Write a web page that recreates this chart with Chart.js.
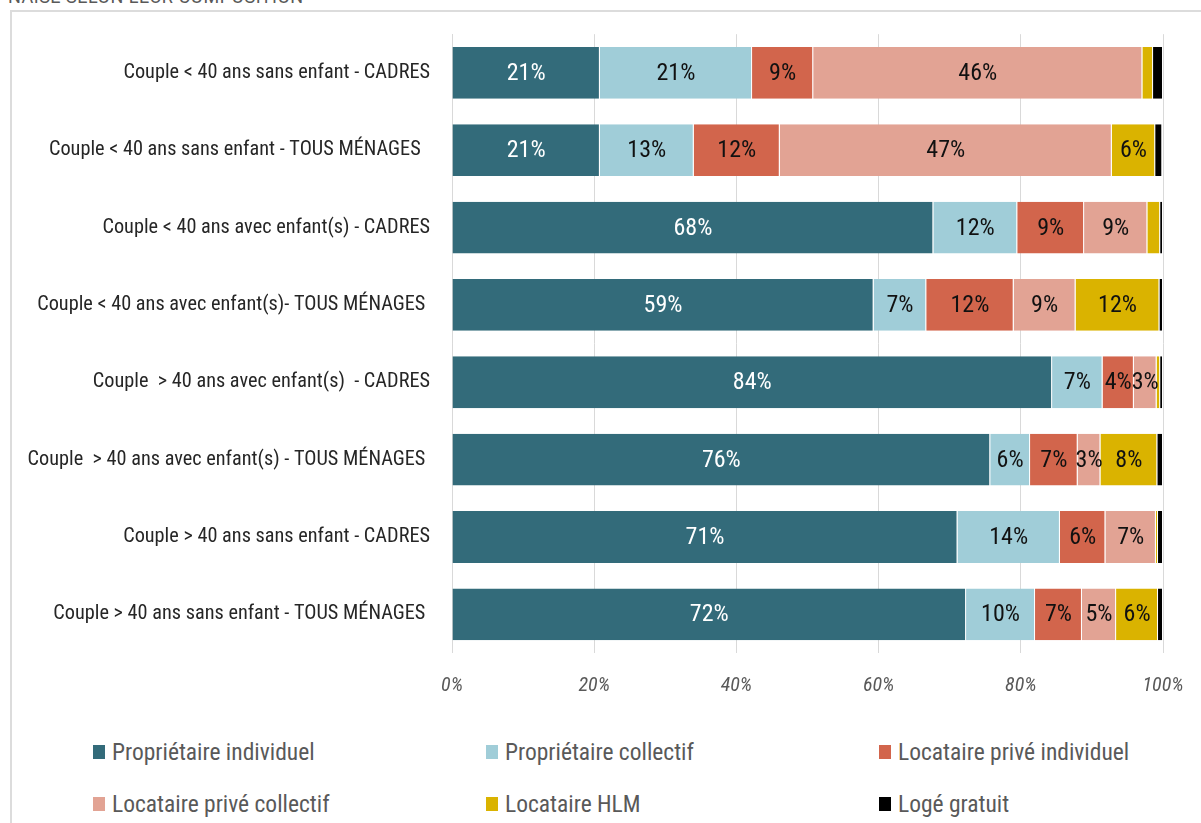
<!DOCTYPE html>
<html lang="fr">
<head>
<meta charset="utf-8">
<title>Statut d'occupation selon la composition du ménage</title>
<script src="https://cdn.jsdelivr.net/npm/chart.js@4.4.1/dist/chart.umd.min.js"></script>
<style>
	body { margin: 0; width: 1201px; height: 823px; overflow: hidden; background: #fff; font-family: "Liberation Sans Narrow", "Roboto Condensed", Roboto, sans-serif; }
	#title { position: absolute; left: 8px; top: -14px; font-family: Roboto, sans-serif; font-size: 18px; color: #595959; letter-spacing: 0.5px; white-space: nowrap; }
	#frame { position: absolute; left: 10px; top: 10px; width: 1300px; height: 900px; border: 2px solid #dcdcdc; }
	#chartBox { position: absolute; left: 0; top: 0; width: 1201px; height: 720px; }
	#legend { position: absolute; left: 93px; top: 734px; display: grid; grid-template-columns: 393px 393px 300px; row-gap: 16px; }
	.item { display: flex; align-items: center; height: 36px; font-size: 23.5px; color: #595959; white-space: nowrap; }
	.item span.box { width: 12px; height: 14px; margin-right: 7px; display: inline-block; }
</style>
</head>
<body>
<div id="title">NAISE SELON LEUR COMPOSITION</div>
<div id="frame"></div>
<div id="chartBox"><canvas id="housingChart"></canvas></div>
<div id="legend"></div>
<script>
const categories = [
	"Couple < 40 ans sans enfant - CADRES",
	"Couple < 40 ans sans enfant - TOUS MÉNAGES  ",
	"Couple < 40 ans avec enfant(s) - CADRES",
	"Couple < 40 ans avec enfant(s)- TOUS MÉNAGES ",
	"Couple  > 40 ans avec enfant(s)  - CADRES",
	"Couple  > 40 ans avec enfant(s) - TOUS MÉNAGES ",
	"Couple > 40 ans sans enfant - CADRES",
	"Couple > 40 ans sans enfant - TOUS MÉNAGES "
];

// shares in %
const proprietaireIndividuel = [20.8, 20.8, 67.7, 59.3, 84.4, 75.7, 71.1, 72.3];
const proprietaireCollectif = [21.4, 13.2, 11.8, 7.4, 7.1, 5.6, 14.4, 9.7];
const locatairePriveIndividuel = [8.6, 12.1, 9.4, 12.3, 4.4, 6.7, 6.4, 6.6];
const locatairePriveCollectif = [46.3, 46.7, 8.9, 8.7, 3.2, 3.2, 7.1, 4.8];
const locataireHLM = [1.5, 6.1, 1.8, 11.8, 0.5, 8.0, 0.3, 5.9];
const logeGratuit = [1.4, 1.0, 0.4, 0.5, 0.4, 0.8, 0.7, 0.7];

const tickValues = [0, 20, 40, 60, 80, 100];

const seriesNames = ["Propriétaire individuel", "Propriétaire collectif", "Locataire privé individuel", "Locataire privé collectif", "Locataire HLM", "Logé gratuit"];
const seriesData = [proprietaireIndividuel, proprietaireCollectif, locatairePriveIndividuel, locatairePriveCollectif, locataireHLM, logeGratuit];
const seriesColors = ["#336b7a", "#a0cdd8", "#d2654c", "#e2a394", "#dab300", "#000000"];
const labelColors = ["#ffffff", "#111111", "#111111", "#111111", "#111111", "#111111"];

const fontFamily = '"Liberation Sans Narrow", "Roboto Condensed", Roboto, sans-serif';

// writes the rounded value in the middle of each segment
const segmentLabels = {
	id: "segmentLabels",
	afterDatasetsDraw(chart) {
		const ctx = chart.ctx;
		ctx.save();
		ctx.font = `24px ${fontFamily}`;
		ctx.textAlign = "center";
		ctx.textBaseline = "middle";
		chart.data.datasets.forEach((dataset, i) => {
			const meta = chart.getDatasetMeta(i);
			meta.data.forEach((bar, j) => {
				const value = dataset.data[j];
				if (value < 2.5) return;
				ctx.fillStyle = labelColors[i];
				ctx.fillText(Math.round(value) + "%", (bar.x + bar.base) / 2, bar.y + 1);
			});
		});
		ctx.restore();
	}
};

const housingChart = document.getElementById("housingChart");

const housingChartDash = new Chart(housingChart, {
	type: "bar",
	data: {
		labels: categories,
		datasets: seriesNames.map((name, i) => ({
			label: name,
			data: seriesData[i],
			backgroundColor: seriesColors[i],
			borderColor: "rgba(255,255,255,0.5)",
			borderWidth: { left: 0, right: 1, top: 0, bottom: 0 },
			barPercentage: 0.67,
			categoryPercentage: 1
		}))
	},
	options: {
		indexAxis: "y",
		responsive: true,
		maintainAspectRatio: false,
		animation: false,
		layout: { padding: { left: 0, top: 32, right: 38, bottom: 0 } },
		plugins: {
			legend: { display: false },
			tooltip: { enabled: false }
		},
		scales: {
			x: {
				stacked: true,
				min: 0,
				max: 100,
				afterBuildTicks: scale => {
					scale.ticks = tickValues.map(v => ({ value: v }));
				},
				afterFit: scale => {
					scale.height = 67;
					// the "100%" label may overhang, it should not push the plot
					scale.paddingLeft = 0;
					scale.paddingRight = 0;
				},
				grid: { color: "#d9d9d9", drawTicks: false },
				border: { display: false },
				ticks: {
					padding: 21,
					color: "#595959",
					font: { family: fontFamily, size: 20, style: "italic" },
					callback: v => v + "%"
				}
			},
			y: {
				stacked: true,
				afterFit: scale => { scale.width = 452; },
				grid: { display: false, drawTicks: false },
				border: { display: true, color: "#d9d9d9" },
				ticks: {
					padding: 22,
					color: "#262626",
					font: { family: fontFamily, size: 20.3 }
				}
			}
		}
	},
	plugins: [segmentLabels]
});

// legend in three columns, built from the datasets
const legend = document.getElementById("legend");
housingChartDash.data.datasets.forEach(dataset => {
	const item = document.createElement("div");
	item.className = "item";
	item.innerHTML = `<span class="box" style="background:${dataset.backgroundColor}"></span>${dataset.label}`;
	legend.appendChild(item);
});
</script>
</body>
</html>
